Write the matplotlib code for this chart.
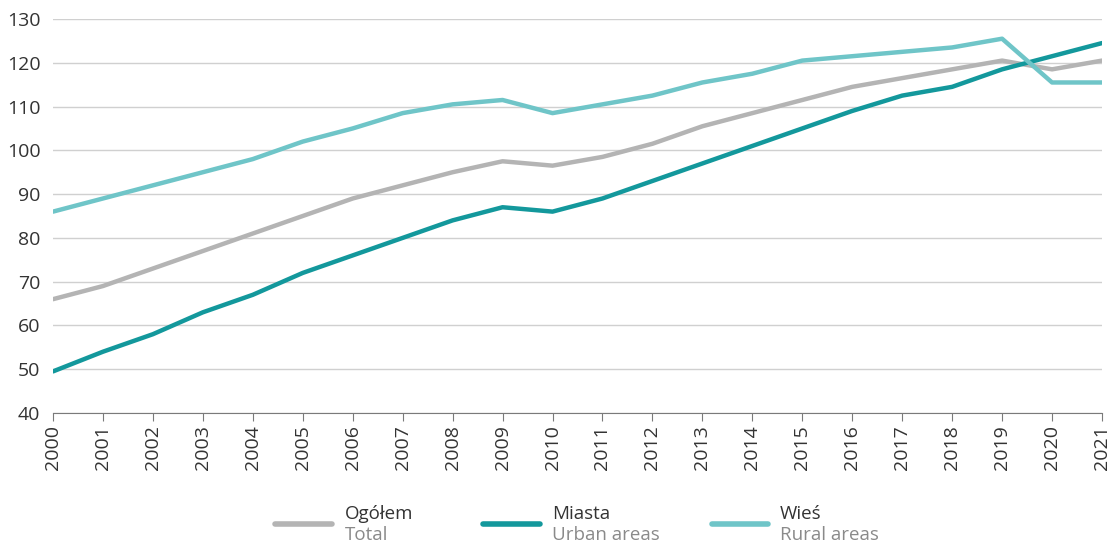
import matplotlib.pyplot as plt
from matplotlib.lines import Line2D

years = list(range(2000, 2022))
ogolem = [66, 69, 73, 77, 81, 85, 89, 92, 95, 97.5, 96.5, 98.5, 101.5, 105.5, 108.5,
          111.5, 114.5, 116.5, 118.5, 120.5, 118.5, 120.5]
miasta = [49.5, 54, 58, 63, 67, 72, 76, 80, 84, 87, 86, 89, 93, 97, 101,
          105, 109, 112.5, 114.5, 118.5, 121.5, 124.5]
wies = [86, 89, 92, 95, 98, 102, 105, 108.5, 110.5, 111.5, 108.5, 110.5, 112.5, 115.5, 117.5,
        120.5, 121.5, 122.5, 123.5, 125.5, 115.5, 115.5]

labels_pl = ["Ogółem", "Miasta", "Wieś"]
labels_en = ["Total", "Urban areas", "Rural areas"]
colors = ["#b4b4b4", "#13989c", "#6fc5c8"]

plt.rcParams['font.family'] = ['Open Sans', 'DejaVu Sans']

fig = plt.figure(figsize=(11.19, 5.44), dpi=100)
ax = fig.add_axes([53 / 1119, 131 / 544, 1049 / 1119, 394 / 544])

for vals, c in zip([ogolem, miasta, wies], colors):
    ax.plot(years, vals, color=c, lw=3.2, solid_capstyle='round', zorder=3)

ax.set_xlim(2000, 2021)
ax.set_ylim(40, 130)
ax.set_yticks(range(40, 131, 10))
ax.set_xticks(years)
ax.set_xticklabels([str(y) for y in years], rotation=90)
ax.grid(axis='y', color='#d0d0d0', lw=1)
ax.set_axisbelow(True)
for s in ['top', 'right', 'left']:
    ax.spines[s].set_visible(False)
ax.spines['bottom'].set_color('#7a7a7a')
ax.tick_params(axis='y', length=0, labelsize=14, labelcolor='#333333', pad=9)
ax.tick_params(axis='x', length=6, color='#7a7a7a', labelsize=14, labelcolor='#333333', pad=3)

# custom legend
handle_x = [(275, 332), (483, 540), (712, 768)]
text_x = [345, 552, 780]
for (x0, x1), tx, c, pl, en in zip(handle_x, text_x, colors, labels_pl, labels_en):
    fig.add_artist(Line2D([x0 / 1119, x1 / 1119], [1 - 524 / 544] * 2, color=c, lw=4,
                          solid_capstyle='round', transform=fig.transFigure))
    fig.text(tx / 1119, 1 - 514 / 544, pl, fontsize=13.5, color='#333333', va='center')
    fig.text(tx / 1119, 1 - 535 / 544, en, fontsize=13.5, color='#8a8a8a', va='center')

fig.savefig('out.png', dpi=100, facecolor='white')
